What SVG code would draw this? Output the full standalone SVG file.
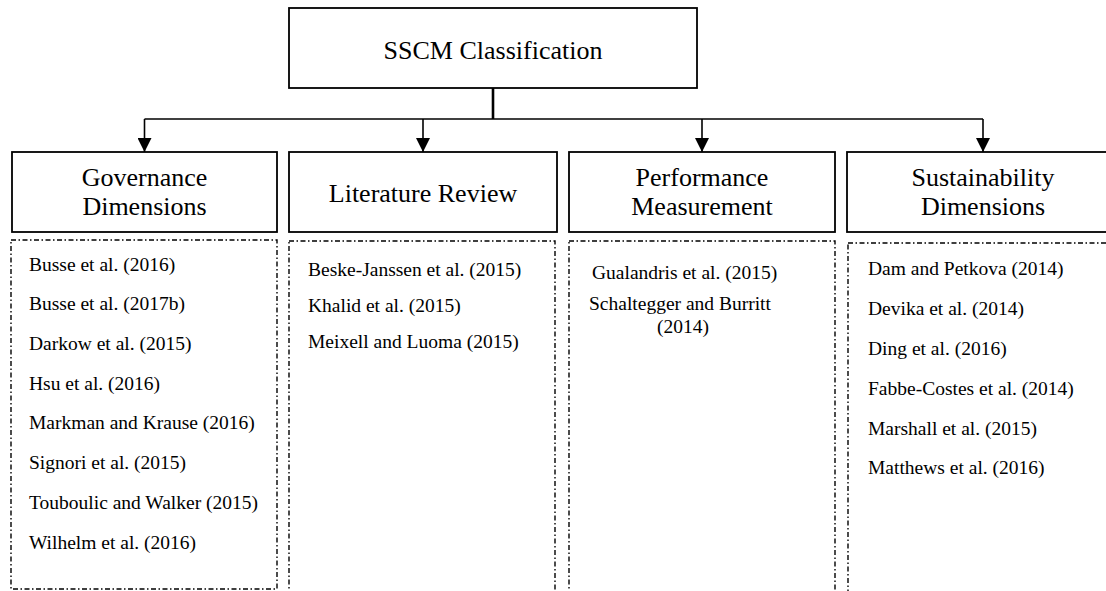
<svg xmlns="http://www.w3.org/2000/svg" width="1106" height="591" viewBox="0 0 1106 591">
<style>
.box{fill:#fff;stroke:#000;stroke-width:1.8}
.dbox{fill:none;stroke:#000;stroke-width:1.4;stroke-dasharray:5,2.5,1.5,2.5}
.t{font-family:'Liberation Serif','Times New Roman','DejaVu Serif',serif;fill:#000}
.title{font-size:26px;text-anchor:middle}
.head{font-size:26px;text-anchor:middle}
.item{font-size:19.5px}
.conn{fill:none;stroke:#000;stroke-width:1.6}
</style>
<defs>
<marker id="arr" viewBox="0 0 14 14" refX="14" refY="7" markerWidth="14" markerHeight="14" markerUnits="userSpaceOnUse" orient="auto">
<path d="M0,0 L14,7 L0,14 Z" fill="#000"/>
</marker>
</defs>
<rect width="1106" height="591" fill="#fff"/>
<g id="connectors">
<line class="conn" x1="493" y1="88" x2="493" y2="119" style="stroke-width:2.6"/>
<line class="conn" x1="144.5" y1="119" x2="983" y2="119"/>
<line class="conn" x1="144.5" y1="119" x2="144.5" y2="152" marker-end="url(#arr)"/>
<line class="conn" x1="423" y1="119" x2="423" y2="152" marker-end="url(#arr)"/>
<line class="conn" x1="702" y1="119" x2="702" y2="152" marker-end="url(#arr)"/>
<line class="conn" x1="983" y1="119" x2="983" y2="152" marker-end="url(#arr)"/>
</g>
<g font-family="'Liberation Serif', serif">
<g id="root">
<rect class="box" x="289" y="8" width="408" height="80"/>
<text class="t title" x="493" y="59" font-family="Liberation Serif">SSCM Classification</text>
</g>
<g id="governance">
<rect class="box" x="12" y="152" width="265" height="80"/>
<text class="t head" x="144.5" y="186">Governance</text>
<text class="t head" x="144.5" y="215">Dimensions</text>
</g>
<g id="literature">
<rect class="box" x="289" y="152" width="268" height="80"/>
<text class="t head" x="423" y="202">Literature Review</text>
</g>
<g id="performance">
<rect class="box" x="569" y="152" width="266" height="80"/>
<text class="t head" x="702" y="186">Performance</text>
<text class="t head" x="702" y="215">Measurement</text>
</g>
<g id="sustainability">
<rect class="box" x="847" y="152" width="272" height="80"/>
<text class="t head" x="983" y="186">Sustainability</text>
<text class="t head" x="983" y="215">Dimensions</text>
</g>
<g id="governance-list">
<rect class="dbox" x="11" y="240" width="266" height="349"/>
<text class="t item" x="29" y="271">Busse et al. (2016)</text>
<text class="t item" x="29" y="310">Busse et al. (2017b)</text>
<text class="t item" x="29" y="350">Darkow et al. (2015)</text>
<text class="t item" x="29" y="390">Hsu et al. (2016)</text>
<text class="t item" x="29" y="429">Markman and Krause (2016)</text>
<text class="t item" x="29" y="469">Signori et al. (2015)</text>
<text class="t item" x="29" y="509">Touboulic and Walker (2015)</text>
<text class="t item" x="29" y="549">Wilhelm et al. (2016)</text>
</g>
<g id="literature-list">
<rect class="dbox" x="289" y="241" width="266" height="360"/>
<text class="t item" x="308" y="276">Beske-Janssen et al. (2015)</text>
<text class="t item" x="308" y="312">Khalid et al. (2015)</text>
<text class="t item" x="308" y="348">Meixell and Luoma (2015)</text>
</g>
<g id="performance-list">
<rect class="dbox" x="569" y="241" width="266" height="360"/>
<text class="t item" x="592" y="279">Gualandris et al. (2015)</text>
<text class="t item" x="589" y="310">Schaltegger and Burritt</text>
<text class="t item" x="683" y="333" text-anchor="middle">(2014)</text>
</g>
<g id="sustainability-list">
<rect class="dbox" x="848" y="243" width="270" height="360"/>
<text class="t item" x="868" y="275">Dam and Petkova (2014)</text>
<text class="t item" x="868" y="315">Devika et al. (2014)</text>
<text class="t item" x="868" y="355">Ding et al. (2016)</text>
<text class="t item" x="868" y="395">Fabbe-Costes et al. (2014)</text>
<text class="t item" x="868" y="435">Marshall et al. (2015)</text>
<text class="t item" x="868" y="474">Matthews et al. (2016)</text>
</g>
</g>
</svg>
